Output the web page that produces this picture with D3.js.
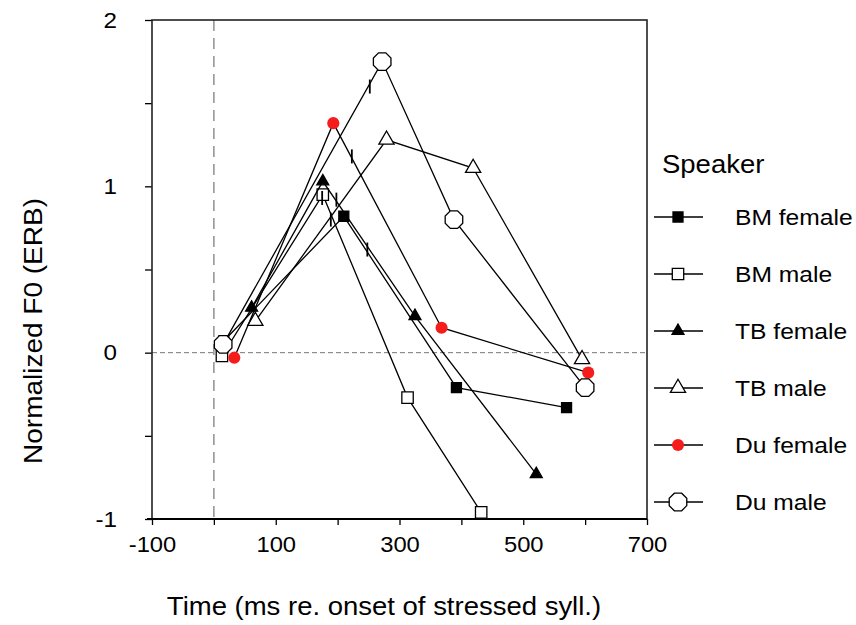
<html>
  <head>
    <script src="https://d3js.org/d3.v7.min.js"></script>
    <style>
      body { margin: 0; background: #fff; }
      text { font-family: "Liberation Sans", Arial, sans-serif; fill: #000; }
    </style>
  </head>
  <body>
    <svg id="graph" width="856" height="625"></svg>
    <script>
      // values
      const speakers = ["BM female", "BM male", "TB female", "TB male", "Du female", "Du male"];
      const bmFemaleX = [16, 210, 392, 570];
      const bmFemaleY = [0.07, 0.82, -0.21, -0.33];
      const bmMaleX = [13, 176, 313, 432];
      const bmMaleY = [-0.02, 0.95, -0.27, -0.96];
      const tbFemaleX = [61, 176, 325, 521];
      const tbFemaleY = [0.27, 1.03, 0.22, -0.73];
      const tbMaleX = [67, 279, 419, 595];
      const tbMaleY = [0.19, 1.28, 1.11, -0.04];
      const duFemaleX = [33, 193, 368, 605];
      const duFemaleY = [-0.03, 1.38, 0.15, -0.12];
      const duMaleX = [15, 272, 388, 600];
      const duMaleY = [0.05, 1.75, 0.8, -0.21];
      // short vertical marks sitting on some of the lines
      const markX = [175, 198, 189, 248, 252, 223];
      const markY = [0.93, 0.92, 0.8, 0.62, 1.6, 1.18];
      const xTicks = [-100, 0, 100, 200, 300, 400, 500, 600, 700];
      const xLabels = [-100, 100, 300, 500, 700];
      const yTicks = [-1, -0.5, 0, 0.5, 1, 1.5, 2];
      const yLabels = [-1, 0, 1, 2];

      const seriesX = [bmFemaleX, bmMaleX, tbFemaleX, tbMaleX, duFemaleX, duMaleX];
      const seriesY = [bmFemaleY, bmMaleY, tbFemaleY, tbMaleY, duFemaleY, duMaleY];

      const svg = d3.select("#graph");
      const pLeft = 152, pRight = 647, pTop = 20, pBottom = 519;

      const x = d3.scaleLinear().domain([-100, 700]).range([pLeft, pRight]);
      const y = d3.scaleLinear().domain([-1, 2]).range([pBottom, pTop]);

      // octagon with flat top
      function octagon(r) {
        const pts = d3.range(8).map((i) => {
          const a = Math.PI / 8 + (i * Math.PI) / 4;
          return [r * Math.cos(a), r * Math.sin(a)];
        });
        return "M" + pts.join("L") + "Z";
      }

      const markers = [
        { path: d3.symbol(d3.symbolSquare, 100)(), fill: "#000", stroke: "#000" },
        { path: d3.symbol(d3.symbolSquare, 130)(), fill: "#fff", stroke: "#000" },
        { path: d3.symbol(d3.symbolTriangle, 62)(), fill: "#000", stroke: "#000" },
        { path: d3.symbol(d3.symbolTriangle, 100)(), fill: "#fff", stroke: "#000" },
        { path: d3.symbol(d3.symbolCircle, 115)(), fill: "#f51c1c", stroke: "none" },
        { path: octagon(9.5), fill: "#fff", stroke: "#000" },
      ];

      // reference lines
      svg.append("line")
        .attr("x1", x(0)).attr("x2", x(0))
        .attr("y1", pTop).attr("y2", pBottom)
        .attr("stroke", "#888").attr("stroke-width", 1.4)
        .attr("stroke-dasharray", "11,7");
      svg.append("line")
        .attr("x1", pLeft).attr("x2", pRight)
        .attr("y1", y(0)).attr("y2", y(0))
        .attr("stroke", "#777").attr("stroke-width", 1)
        .attr("stroke-dasharray", "5,3");

      // axes
      const yAxis = svg.append("g")
        .attr("transform", `translate(${pLeft},0)`)
        .call(d3.axisLeft(y).tickValues(yTicks).tickSize(7).tickPadding(28)
          .tickFormat((d) => (yLabels.includes(d) ? String(d) : "")));
      const xAxis = svg.append("g")
        .attr("transform", `translate(0,${pBottom})`)
        .call(d3.axisBottom(x).tickValues(xTicks).tickSize(6).tickPadding(11)
          .tickFormat((d) => (xLabels.includes(d) ? String(d) : "")));

      [yAxis, xAxis].forEach((g) => {
        g.select(".domain").remove();
        g.selectAll("line").attr("stroke", "#000").attr("stroke-width", 1.3);
        g.selectAll("text")
          .attr("font-family", null)
          .style("font-size", "22px");
      });
      yAxis.selectAll("text").each(function () {
        const t = d3.select(this);
        const tx = +t.attr("x");
        t.attr("x", 0).attr("transform", `translate(${tx},0) scale(1.1,1)`);
      });
      xAxis.selectAll("text").attr("transform", "scale(1.08,1)");

      // frame
      svg.append("rect")
        .attr("x", pLeft).attr("y", pTop)
        .attr("width", pRight - pLeft).attr("height", pBottom - pTop)
        .attr("fill", "none").attr("stroke", "#222").attr("stroke-width", 1.6);
      svg.append("line")
        .attr("x1", pLeft - 5).attr("x2", pRight)
        .attr("y1", pBottom).attr("y2", pBottom)
        .attr("stroke", "#000").attr("stroke-width", 2.2);

      const line = d3.line().x((d) => x(d[0])).y((d) => y(d[1]));

      seriesX.forEach((xs, i) => {
        const pts = xs.map((v, j) => [v, seriesY[i][j]]);
        svg.append("path")
          .attr("d", line(pts))
          .attr("fill", "none").attr("stroke", "#000").attr("stroke-width", 1.3);
        svg.append("g").selectAll("path")
          .data(pts)
          .enter()
          .append("path")
          .attr("transform", (d) => `translate(${x(d[0])},${y(d[1])})`)
          .attr("d", markers[i].path)
          .attr("fill", markers[i].fill)
          .attr("stroke", markers[i].stroke)
          .attr("stroke-width", 1.3);
      });

      svg.append("g").selectAll("line")
        .data(markX.map((v, j) => [v, markY[j]]))
        .enter()
        .append("line")
        .attr("x1", (d) => x(d[0])).attr("x2", (d) => x(d[0]))
        .attr("y1", (d) => y(d[1]) - 7).attr("y2", (d) => y(d[1]) + 7)
        .attr("stroke", "#000").attr("stroke-width", 1.8);

      // axis titles
      svg.append("text")
        .attr("transform", "translate(384,615) scale(1.1,1)")
        .attr("text-anchor", "middle")
        .style("font-size", "25px")
        .text("Time (ms re. onset of stressed syll.)");
      svg.append("text")
        .attr("transform", "translate(42,331) rotate(-90) scale(1.12,1)")
        .attr("text-anchor", "middle")
        .style("font-size", "25px")
        .text("Normalized F0 (ERB)");

      // legend
      const legend = svg.append("g");
      legend.append("text")
        .attr("transform", "translate(662,173) scale(1.1,1)")
        .style("font-size", "25px")
        .text("Speaker");
      const rows = legend.selectAll("g.row")
        .data(speakers)
        .enter()
        .append("g")
        .attr("class", "row")
        .attr("transform", (d, i) => `translate(0,${217 + i * 57})`);
      rows.append("line")
        .attr("x1", 654).attr("x2", 703)
        .attr("stroke", "#000").attr("stroke-width", 1.3);
      rows.append("path")
        .attr("transform", "translate(678,0)")
        .attr("d", (d, i) => markers[i].path)
        .attr("fill", (d, i) => markers[i].fill)
        .attr("stroke", (d, i) => markers[i].stroke)
        .attr("stroke-width", 1.3);
      rows.append("text")
        .attr("transform", "translate(735,8) scale(1.12,1)")
        .style("font-size", "22px")
        .text((d) => d);
    </script>
  </body>
</html>
